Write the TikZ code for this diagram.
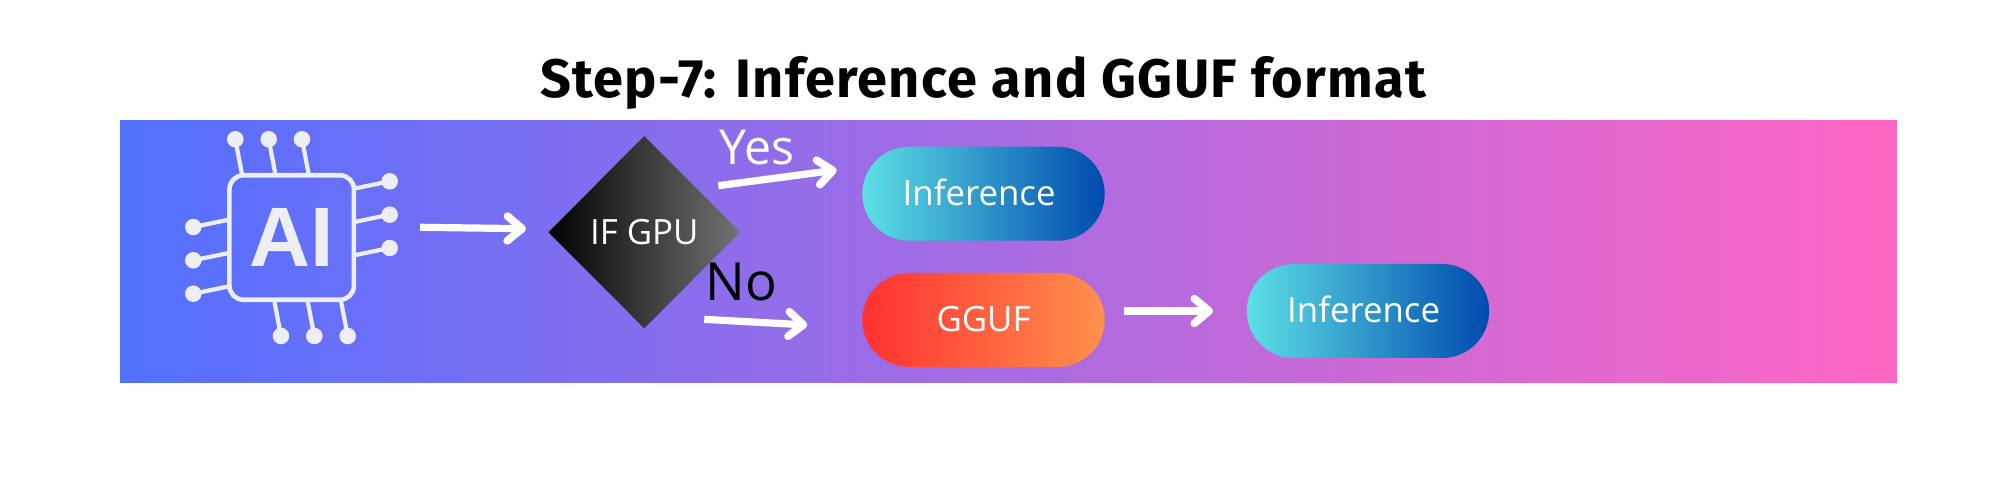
\documentclass[tikz,border=0pt]{standalone}
\usepackage{fontspec}
\setmainfont{Fira Sans}
\newfontfamily\labelfont{Open Sans}
\newfontfamily\chipfont{Liberation Sans}
\usetikzlibrary{arrows.meta,shapes.geometric,shapes.misc}
\definecolor{bandleft}{HTML}{5271FF}
\definecolor{bandright}{HTML}{FF66C4}
\definecolor{chipgrey}{HTML}{EEEFF5}
\definecolor{tealend}{HTML}{5DE0E6}
\definecolor{blueend}{HTML}{004AAD}
\definecolor{redend}{HTML}{FF3131}
\definecolor{orangeend}{HTML}{FF914D}
\tikzset{
  flowarrow/.style={-{Straight Barb[length=4.2pt,width=7pt,line width=2.2pt,round]},white,line width=2.05pt},
  pintrace/.style={chipgrey,line width=1.2pt},
  pinpad/.style={circle,fill=chipgrey,inner sep=0pt,minimum size=4.7pt},
  pillbox/.style={rounded rectangle,inner sep=0pt,outer sep=0pt,minimum width=24.24mm,minimum height=9.4mm,text=white,text height=6.8pt,text depth=0pt,font=\labelfont\fontsize{9.9}{12}\selectfont}
}
\begin{document}
\begin{tikzpicture}[x=0.1mm,y=0.1mm]
\useasboundingbox (0,0) rectangle (2000,-482);

\node [inner sep=0pt,font=\fontsize{15.4}{19}\selectfont\bfseries\addfontfeature{LetterSpace=2.4},anchor=base] at (983,-98) (title) {Step-7: Inference and GGUF format};
\node [rectangle,inner sep=0pt,minimum width=177.7mm,minimum height=26.23mm,left color=bandleft,right color=bandright] at (1008.5,-251.2) (band) {};

% pins of the chip
\foreach \i/\x in {1/235.3,2/268.7,3/302} {
  \node [pinpad] at (\x,-139.3) (top\i) {};
  \draw [pintrace] (top\i.center) -- ++(6.5,-34);
}
\foreach \i/\y in {1/181.3,2/214.7,3/248} {
  \node [pinpad] at (389.7,-\y) (right\i) {};
  \draw [pintrace] (right\i.center) -- ++(-34,-7);
}
\foreach \i/\y in {1/227,2/260.3,3/293.7} {
  \node [pinpad] at (193.3,-\y) (left\i) {};
  \draw [pintrace] (left\i.center) -- ++(34,7);
}
\foreach \i/\x in {1/281,2/314.3,3/347.7} {
  \node [pinpad] at (\x,-336) (bottom\i) {};
  \draw [pintrace] (bottom\i.center) -- ++(-6.5,34);
}
\node [rectangle,draw=chipgrey,line width=1.3pt,rounded corners=4pt,fill=none,minimum width=12.45mm,minimum height=12.45mm,inner sep=0pt,outer sep=0pt,text=chipgrey,font=\chipfont\fontsize{24}{28}\selectfont\bfseries] at (291.7,-237.5) (chip) {AI};

\node [diamond,inner sep=0pt,outer sep=0pt,aspect=1,minimum width=19.17mm,minimum height=19.23mm,left color=black,right color=black!55,text=white,font=\labelfont\fontsize{9.9}{12}\selectfont] at (644.3,-232.2) (gpu) {IF GPU};

\node [white,inner sep=0pt,anchor=base,font=\labelfont\fontsize{13.7}{16}\selectfont] at (756.7,-165) (yes) {Yes};
\node [black,inner sep=0pt,anchor=base,font=\labelfont\fontsize{15}{18}\selectfont] at (741.7,-300.7) (no) {No};

\node [pillbox,left color=tealend,right color=blueend] at (983.5,-193.7) (infer a) {Inference\kern2.5pt};
\node [pillbox,left color=redend,right color=orangeend] at (983.5,-320) (gguf) {GGUF};
\node [pillbox,left color=tealend,right color=blueend] at (1368,-311) (infer b) {Inference\kern2.5pt};

\coordinate (chip out) at (420,-227.3);
\coordinate (gpu in) at (526,-228.7);
\coordinate (yes out) at (718.3,-185.7);
\coordinate (infer a in) at (836.7,-170);
\coordinate (no out) at (704.3,-319.3);
\coordinate (gguf in) at (807.3,-325);
\coordinate (gguf out) at (1124,-311);
\coordinate (infer b in) at (1213,-311);

\path [flowarrow] (chip out) edge (gpu in);
\path [flowarrow] (yes out) edge (infer a in);
\path [flowarrow] (no out) edge (gguf in);
\path [flowarrow] (gguf out) edge (infer b in);

\end{tikzpicture}
\end{document}
